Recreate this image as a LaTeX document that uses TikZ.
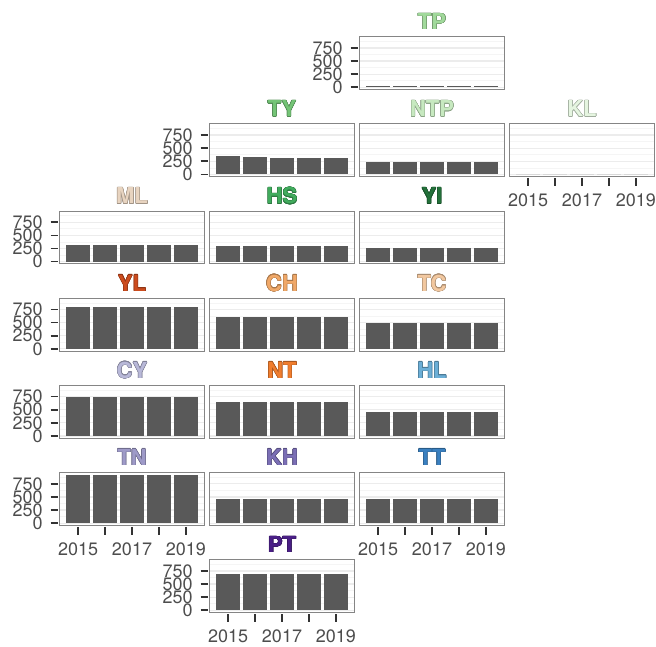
\documentclass[tikz,border=0pt]{standalone}
\usepackage{fontspec}
\usepackage{contour}
\setmainfont{TeX Gyre Heros}
\usetikzlibrary{positioning}
\definecolor{bargray}{HTML}{595959}
\definecolor{axisgray}{HTML}{4D4D4D}
\definecolor{tickdark}{HTML}{333333}
\tikzset{panel/.style = {draw = black!48, line width = 0.9}}
\tikzset{major/.style = {draw = gray!15, line width = 1.2}}
\tikzset{minor/.style = {draw = gray!8, line width = 0.7}}
\tikzset{bar/.style = {fill = bargray}}
\tikzset{tickmark/.style = {draw = tickdark, line width = 1.7}}
\tikzset{ticklab/.style = {text = axisgray, inner sep = 0, font = \fontsize{18}{18}\selectfont}}
\tikzset{facet/.style = {inner sep = 0, font = \fontsize{22}{22}\selectfont\bfseries}}
\contourlength{0.45pt}

\begin{document}
\begin{tikzpicture}[x = 1pt, y = -1pt]
  \useasboundingbox (0, 0) rectangle (656, 646);
  \foreach \cl/\rw/\lab/\clr/\va/\vb/\vc/\vd/\ve/\yax/\xax in {
      2/0/TP/A1D99B/20/20/20/20/20/1/0,
      1/1/TY/74C476/350/335/320/315/315/1/0,
      2/1/NTP/C7E9C0/245/240/240/240/240/0/0,
      3/1/KL/E5F5E0/0/0/0/0/0/0/1,
      0/2/ML/E8D4C0/325/325/322/322/322/1/0,
      1/2/HS/41AB5D/292/290/290/290/290/0/0,
      2/2/YI/23713A/257/257/257/257/257/0/0,
      0/3/YL/CC4C1E/800/800/800/800/800/1/0,
      1/3/CH/F0A868/612/610/610/610/610/0/0,
      2/3/TC/F2C8A0/500/495/495/495/495/0/0,
      0/4/CY/B8B8D8/748/748/748/748/748/1/0,
      1/4/NT/F07D2E/650/650/650/650/650/0/0,
      2/4/HL/6BAED6/465/450/450/450/450/0/0,
      0/5/TN/9E9AC8/920/920/920/920/920/1/1,
      1/5/KH/7B6FB5/468/468/468/468/468/0/0,
      2/5/TT/3A80C0/455/455/455/455/455/0/1,
      1/6/PT/4A1F86/700/700/700/700/700/1/1}{
    \pgfmathsetmacro{\xl}{59.5 + 150*\cl}
    \pgfmathsetmacro{\xr}{\xl + 145}
    \pgfmathsetmacro{\zr}{87.3 + 87.17*\rw}
    \pgfmathsetmacro{\yt}{\zr - 50.6}
    \pgfmathsetmacro{\yb}{\zr + 2.3}
    \definecolor{cur}{HTML}{\clr}
    \fill [white] (\xl, \yt) rectangle (\xr, \yb);
    % grid
    \foreach \gv in {125, 375, 625, 875}
      \draw [minor] (\xl, {\zr - 0.0525*\gv}) -- (\xr, {\zr - 0.0525*\gv});
    \foreach \gv in {0, 250, 500, 750}
      \draw [major] (\xl, {\zr - 0.0525*\gv}) -- (\xr, {\zr - 0.0525*\gv});
    % bars
    \foreach \hv [count = \i] in {\va, \vb, \vc, \vd, \ve}
      \fill [bar] ({\xl + 18.7 + 26.9*(\i - 1) - 12.1}, \zr) rectangle ++(24.2, {-0.0525*\hv});
    \draw [panel] (\xl, \yt) rectangle (\xr, \yb);
    \node [facet, text = cur] (t\lab) at ({\xl + 72.5}, {\yt - 15}) {\contour{cur!70!black}{\lab}};
    % axes
    \ifnum\yax=1
      \foreach \tk in {0, 250, 500, 750} {
        \draw [tickmark] ({\xl - 9}, {\zr - 0.0525*\tk}) -- ({\xl - 1.5}, {\zr - 0.0525*\tk});
        \node [ticklab, anchor = east] (y\lab\tk) at ({\xl - 16.6}, {\zr - 0.0525*\tk}) {\tk};
      }
    \fi
    \ifnum\xax=1
      \foreach \i in {0, ..., 4}
        \draw [tickmark] ({\xl + 18.7 + 26.9*\i}, {\zr + 3.7}) -- ++(0, 8);
      \foreach \yr in {2015, 2017, 2019}
        \node [ticklab, anchor = north] (x\lab\yr) at ({\xl + 18.7 + 26.9*(\yr - 2015)}, {\zr + 19.4}) {\yr};
    \fi
  }
\end{tikzpicture}
\end{document}
